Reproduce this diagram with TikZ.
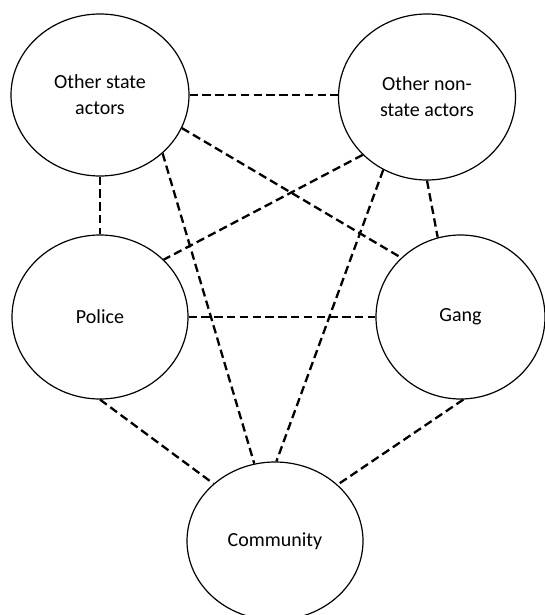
\documentclass[tikz,border=0pt]{standalone}
\usepackage{fontspec}
\setmainfont{Carlito}
\usetikzlibrary{shapes.geometric}
\begin{document}
\begin{tikzpicture}[x=0.5pt,y=-0.5pt,
  actor/.style={ellipse,draw,line width=0.6pt,inner sep=0pt,align=center,
    font=\fontsize{10}{13}\selectfont},
  tie/.style={line width=1.15pt,dash pattern=on 4.2pt off 2.2pt}]
\useasboundingbox (0,0) rectangle (545,615);
% actors
\node[actor,minimum width=89pt,minimum height=81pt] (state) at (100,95) {Other state\\actors};
\node[actor,minimum width=88.5pt,minimum height=83pt] (nonstate) at (427,97) {Other non-\\state actors};
\node[actor,minimum width=88pt,minimum height=82pt] (police) at (100,317) {Police};
\node[actor,minimum width=84.5pt,minimum height=82pt] (gang) at (460.5,317) {Gang};
\node[actor,minimum width=88pt,minimum height=79pt] (community) at (275,541) {Community};
% relations
\draw[tie] (state.east) -- (state.east -| nonstate.west);
\draw[tie] (state.-22) -- (gang.135.5);
\draw[tie] (state.-43) -- (community.105.6);
\draw[tie] (state.-90) -- (police.90);
\draw[tie] (nonstate.-138.8) -- (police.42.6);
\draw[tie] (nonstate.-121) -- (community.89);
\draw[tie] (nonstate.-90) -- (gang.106);
\draw[tie] (police.0) -- (gang.180);
\draw[tie] (police.-90) -- (community.137);
\draw[tie] (gang.-88) -- (community.42);
\end{tikzpicture}
\end{document}
